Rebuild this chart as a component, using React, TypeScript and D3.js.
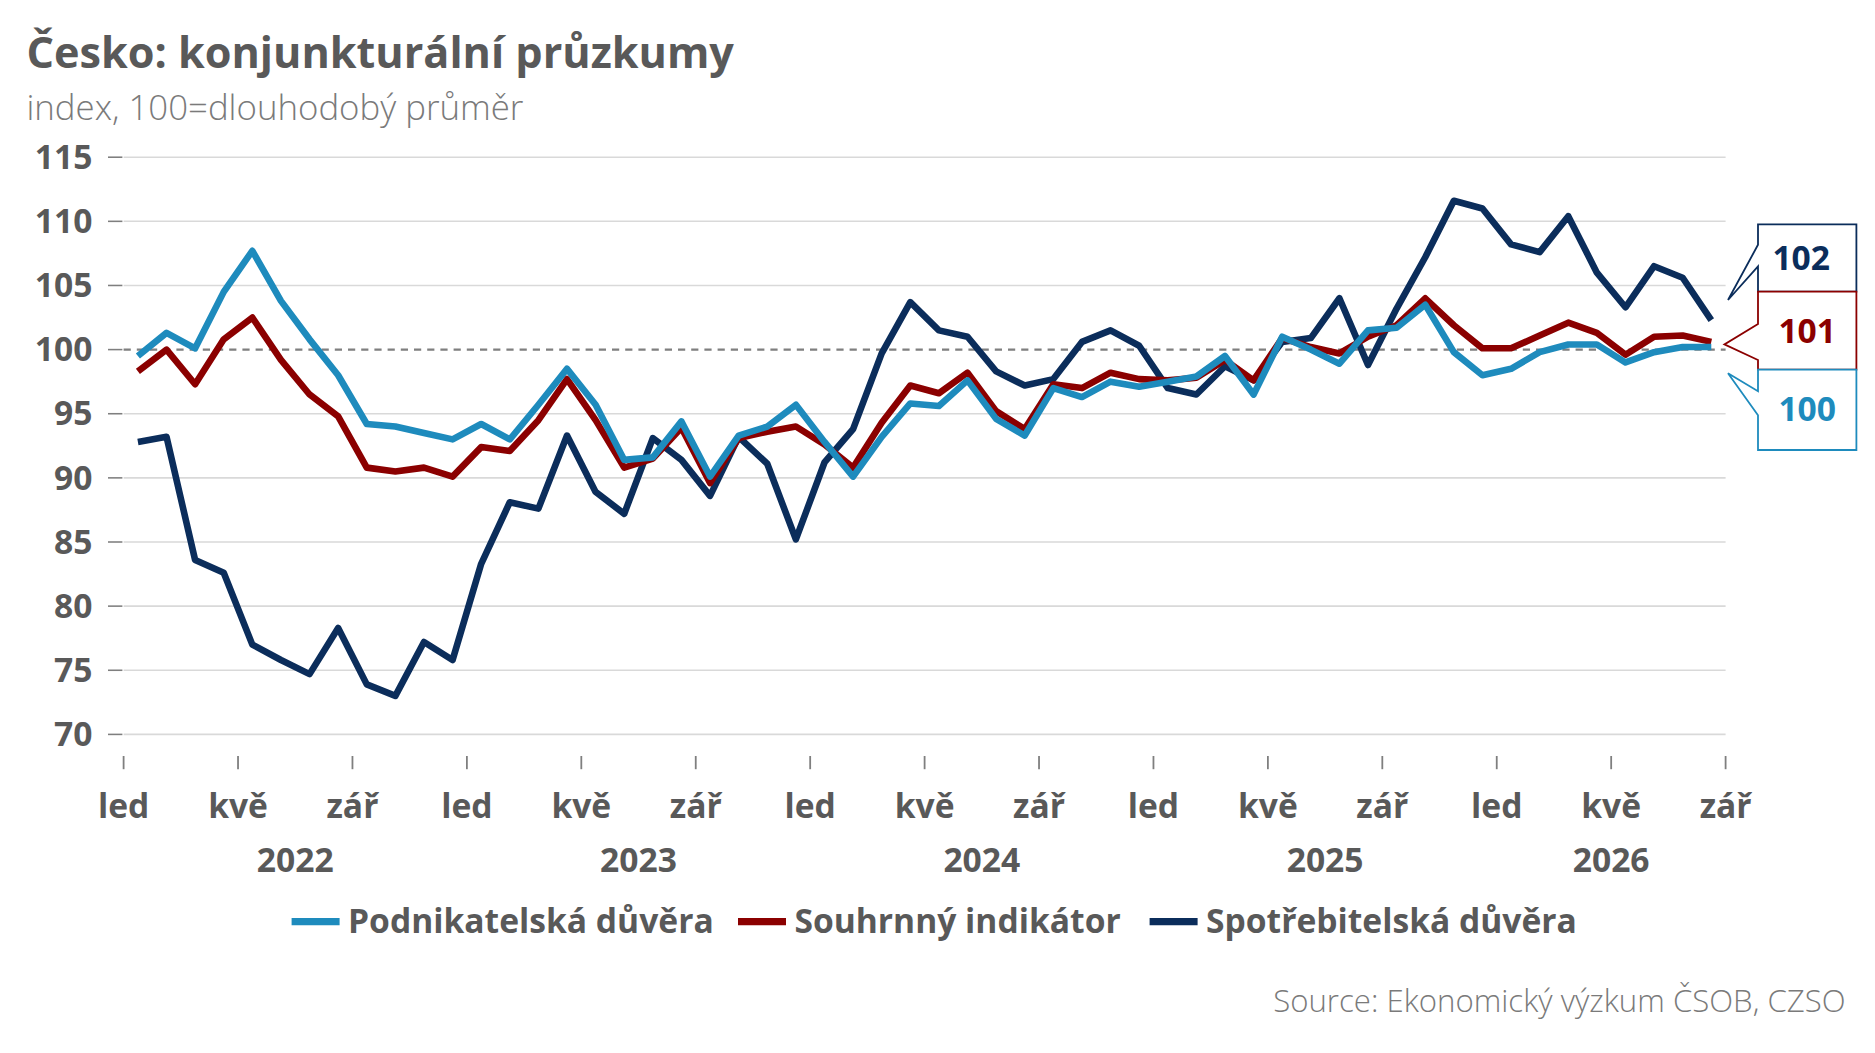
import React from "react";
import * as d3 from "d3";

const business = [99.5,101.3,100.1,104.5,107.7,103.8,100.8,98.0,94.2,94.0,93.5,93.0,94.2,93.0,95.7,98.5,95.7,91.4,91.6,94.4,90.1,93.3,94.0,95.7,92.8,90.1,93.2,95.8,95.6,97.6,94.6,93.3,97.0,96.3,97.5,97.1,97.5,97.9,99.5,96.5,101.0,100.0,98.9,101.5,101.7,103.5,99.8,98.0,98.5,99.8,100.4,100.4,99.0,99.8,100.2,100.2];
const composite = [98.3,100.0,97.3,100.8,102.5,99.2,96.5,94.8,90.8,90.5,90.8,90.1,92.4,92.1,94.5,97.7,94.5,90.8,91.5,93.9,89.6,93.1,93.6,94.0,92.6,90.8,94.3,97.2,96.6,98.2,95.2,93.8,97.3,97.0,98.2,97.7,97.6,97.8,99.2,97.6,100.9,100.2,99.7,101.0,101.9,104.0,101.9,100.1,100.1,101.1,102.1,101.3,99.6,101.0,101.1,100.6];
const consumer = [92.8,93.2,83.6,82.6,77.0,75.8,74.7,78.3,73.9,73.0,77.2,75.8,83.3,88.1,87.6,93.3,88.9,87.2,93.1,91.4,88.6,93.2,91.1,85.2,91.2,93.8,99.7,103.7,101.5,101.0,98.3,97.2,97.7,100.6,101.5,100.3,97.0,96.5,98.7,97.6,100.6,100.9,104.0,98.8,103.2,107.2,111.6,111.0,108.2,107.6,110.4,106.0,103.3,106.5,105.6,102.3];
const yTicks = [70,75,80,85,90,95,100,105,110,115];
const monthLabels = ["led","kvě","zář"];
const years = ["2022","2023","2024","2025","2026"];
const seriesNames = ["Podnikatelská důvěra","Souhrnný indikátor","Spotřebitelská důvěra"];
const endLabels = ["100","101","102"];

const COLORS = ["#1e8bbd","#8b0000","#0b2d5b"];
const FONT = "'Open Sans', 'Noto Sans', sans-serif";
const GRAY = "#595959";

export default function App() {
  const totalMonths = 56;
  const x = d3.scaleLinear().domain([0, totalMonths]).range([103, 1438]);
  const y = d3.scaleLinear().domain([70, 115]).range([612, 131]);
  const line = d3.line<number>().x((_, i) => x(i + 0.5)).y(d => y(d));
  const data = [business, composite, consumer];
  const tickMonths = d3.range(0, totalMonths + 1, 4);

  return (
    <svg width={1875} height={1053} viewBox="0 0 1562.5 877.5"
      style={{ position: "absolute", left: 0, top: 0, background: "#fff" }} fontFamily={FONT}>
      <text x={22} y={57} fontSize={36} fontWeight={700} fill={GRAY}>Česko: konjunkturální průzkumy</text>
      <text x={22} y={100} fontSize={29} fontWeight={300} fill="#7a7a7a">index, 100=dlouhodobý průměr</text>

      {yTicks.map(t => (
        <g key={t}>
          {t !== 100 && <line x1={103} x2={1438} y1={y(t)} y2={y(t)} stroke="#d9d9d9" strokeWidth={1.3} />}
          <line x1={90} x2={102} y1={y(t)} y2={y(t)} stroke="#7f7f7f" strokeWidth={1.3} />
          <text x={77} y={y(t)} dy="0.35em" textAnchor="end" fontSize={28} fontWeight={700} fill={GRAY}>{t}</text>
        </g>
      ))}
      <line x1={103} x2={1438} y1={y(100)} y2={y(100)} stroke="#7f7f7f" strokeWidth={2} strokeDasharray="6,5" />

      {tickMonths.map((m, k) => (
        <g key={m}>
          <line x1={x(m)} x2={x(m)} y1={630} y2={641} stroke="#7f7f7f" strokeWidth={1.5} />
          <text x={x(m)} y={682} textAnchor="middle" fontSize={28} fontWeight={700} fill={GRAY}>{monthLabels[k % 3]}</text>
        </g>
      ))}
      {years.map((yr, k) => {
        const a = x(k * 12), b = x(Math.min((k + 1) * 12, totalMonths));
        return <text key={yr} x={(a + b) / 2} y={727} textAnchor="middle" fontSize={28} fontWeight={700} fill={GRAY}>{yr}</text>;
      })}

      {[2, 1, 0].map(i => (
        <path key={i} d={line(data[i]) || ""} fill="none" stroke={COLORS[i]} strokeWidth={5.5} strokeLinejoin="round" />
      ))}

      <path d="M1465,187 H1547 V243 H1465 V222 L1440,250 L1465,204 Z" fill="#fff" stroke={COLORS[2]} strokeWidth={1.5} />
      <text x={1501} y={215} dy="0.35em" textAnchor="middle" fontSize={28} fontWeight={700} fill={COLORS[2]}>{endLabels[2]}</text>
      <path d="M1465,243 H1547 V308 H1465 V300 L1437,287 L1465,270 Z" fill="#fff" stroke={COLORS[1]} strokeWidth={1.5} />
      <text x={1506} y={276} dy="0.35em" textAnchor="middle" fontSize={28} fontWeight={700} fill={COLORS[1]}>{endLabels[1]}</text>
      <path d="M1465,308 H1547 V375 H1465 V346 L1440,311 L1465,326 Z" fill="#fff" stroke={COLORS[0]} strokeWidth={1.5} />
      <text x={1506} y={341} dy="0.35em" textAnchor="middle" fontSize={28} fontWeight={700} fill={COLORS[0]}>{endLabels[0]}</text>

      {(() => {
        const starts = [243, 615, 958];
        return seriesNames.map((n, i) => (
          <g key={n}>
            <line x1={starts[i]} x2={starts[i] + 40} y1={768} y2={768} stroke={COLORS[i]} strokeWidth={6} />
            <text x={starts[i] + 47} y={768} dy="0.35em" fontSize={28} fontWeight={700} fill={GRAY}>{n}</text>
          </g>
        ));
      })()}

      <text x={1538} y={843} textAnchor="end" fontSize={26} fontWeight={300} fill="#7a7a7a">Source: Ekonomický výzkum ČSOB, CZSO</text>
    </svg>
  );
}
